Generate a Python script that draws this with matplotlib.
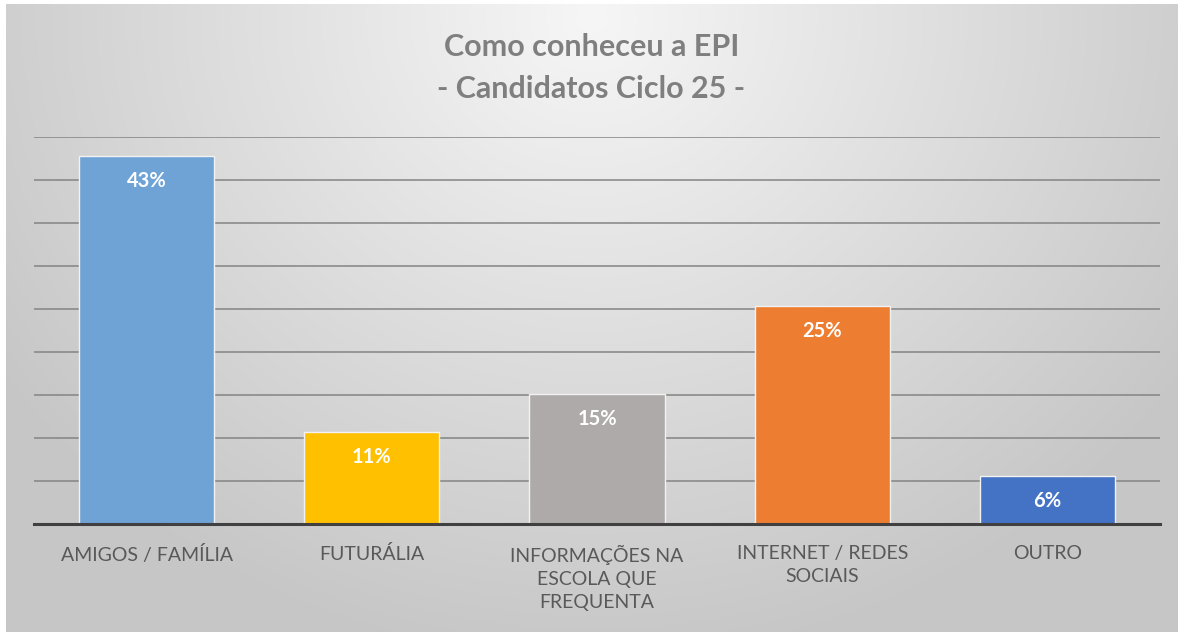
import matplotlib
matplotlib.use("Agg")
import matplotlib.pyplot as plt
import numpy as np

categories = ["AMIGOS / FAMÍLIA", "FUTURÁLIA", "INFORMAÇÕES NA\nESCOLA QUE\nFREQUENTA",
              "INTERNET / REDES\nSOCIAIS", "OUTRO"]
values = [42.8, 10.7, 15.1, 25.4, 5.6]
labels = ["43%", "11%", "15%", "25%", "6%"]
colors = ["#6fa3d6", "#ffc000", "#aeaaa9", "#ed7d31", "#4472c4"]
title = "Como conheceu a EPI\n- Candidatos Ciclo 25 -"

W, H = 1183, 632
fig = plt.figure(figsize=(W / 100, H / 100), dpi=100)
fig.patch.set_facecolor("white")

# radial gray background, light at the top centre
bg = fig.add_axes([6 / W, 0, (W - 11) / W, (H - 4) / H])
yy, xx = np.mgrid[0:1:300j, 0:1:600j]
r = np.sqrt(((xx - 0.5) / 0.62) ** 2 + ((yy - 0.02) / 1.05) ** 2)
shade = np.clip(0.965 - 0.19 * r, 0.78, 0.97)
bg.imshow(np.dstack([shade] * 3), aspect="auto", extent=[0, 1, 1, 0])
bg.set_axis_off()

ax = fig.add_axes([34 / W, (H - 524) / H, (1160 - 34) / W, (524 - 137) / H])
ax.patch.set_alpha(0)
x = np.arange(len(categories))
bars = ax.bar(x, values, width=0.6, color=colors, edgecolor="#f2f2f2", linewidth=1.0, zorder=3)
ax.set_xlim(-0.5, len(categories) - 0.5)
ax.set_ylim(0, 45)
ax.set_yticks(np.arange(0, 46, 5))
ax.yaxis.grid(True, color="#858585", linewidth=1.4, alpha=0.8, zorder=0)
ax.tick_params(axis="y", length=0, labelleft=False)
ax.tick_params(axis="x", length=0, pad=15)
for s in ["top", "right", "left"]:
    ax.spines[s].set_visible(False)
ax.spines["bottom"].set_color("#404040")
ax.spines["bottom"].set_linewidth(2.2)
ax.spines["bottom"].set_zorder(4)
ax.set_xticks(x)
ax.set_xticklabels(categories, fontsize=14, color="#595959", family="Lato",
                   linespacing=1.42, va="top")

for b, lab in zip(bars, labels):
    ax.annotate(lab, (b.get_x() + b.get_width() / 2, b.get_height()),
                xytext=(0, -25), textcoords="offset pixels",
                ha="center", va="center", color="white", fontsize=14.5,
                fontweight="bold", family="Lato", zorder=5)

fig.text(0.5, 1 - 68 / H, title, ha="center", va="center", fontsize=22,
         fontweight="bold", color="#7f7f7f", family="Lato", linespacing=1.6)

fig.savefig("out.png", dpi=100)
